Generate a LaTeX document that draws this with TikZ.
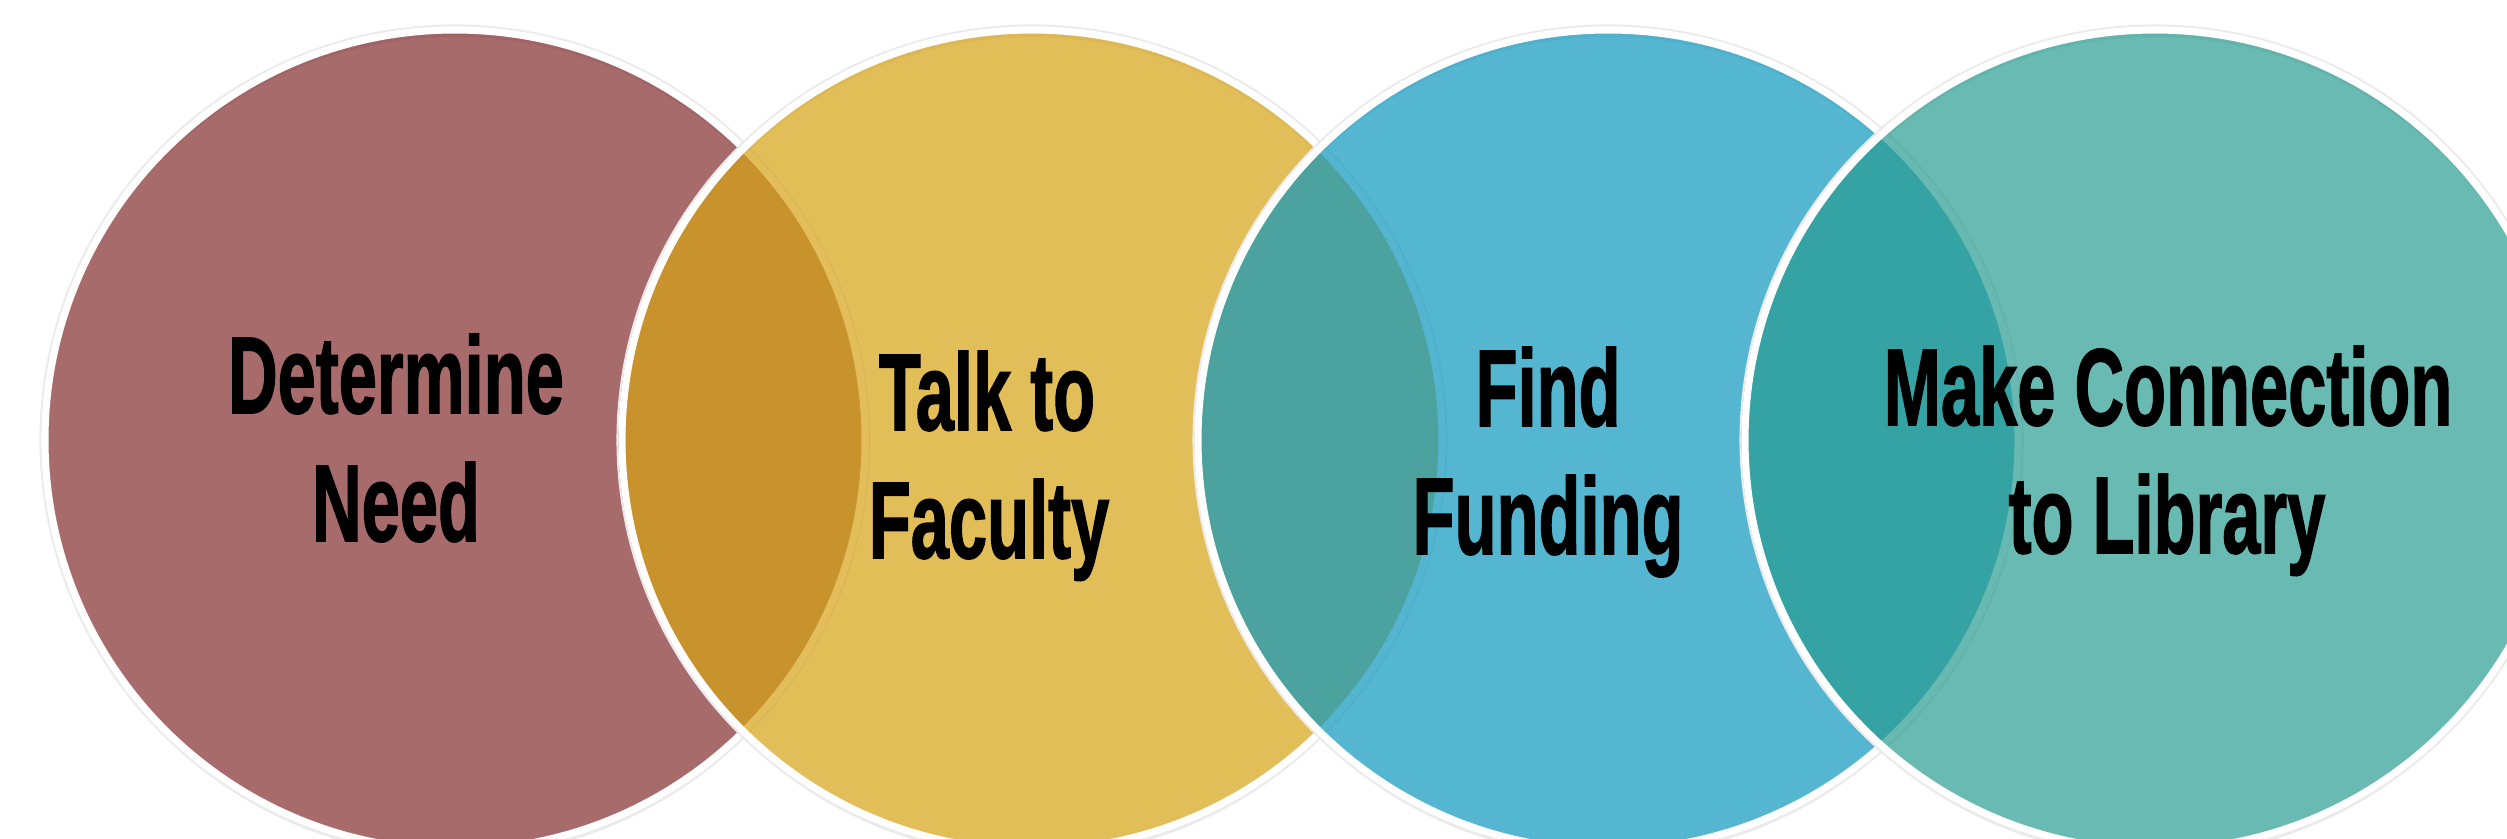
\documentclass[tikz,border=0pt]{standalone}
\usepackage{fontspec}
\newfontfamily\dinfont[BoldFeatures={FakeBold=1.6}]{Liberation Sans}
\definecolor{cMaroon}{RGB}{131,44,44}
\definecolor{cYellow}{RGB}{214,162,19}
\definecolor{cBlue}{RGB}{12,151,189}
\definecolor{cTeal}{RGB}{40,156,145}
\newcommand{\vennDisk}[2]{%
  \fill[black, opacity=0.16, even odd rule] ([yshift=-0.03cm]#1) circle[radius=410] (#1) circle[radius=410];
  \fill[black, opacity=0.08, even odd rule] ([yshift=-0.07cm]#1) circle[radius=410] (#1) circle[radius=410];
  \draw[black!8, line width=0.6pt] (#1) circle[radius=414.5];
  \fill[vfill=#2] (#1) circle[radius=410];
  \draw[vring] (#1) circle[radius=410];
}
\newcommand{\cond}[1]{\scalebox{0.63}[1]{#1}}
\begin{document}
\begin{tikzpicture}[x=0.01cm,y=0.01cm,
  vfill/.style={fill=#1, fill opacity=0.7},
  vring/.style={draw=white, line width=2pt},
  vlabel/.style={font=\dinfont\bfseries\fontsize{31}{37}\selectfont, text=black, anchor=base, inner sep=0pt}]
\useasboundingbox (0,0) rectangle (2507,838);
\clip (0,0) rectangle (2507,838);
\coordinate (c1) at (455,398);
\coordinate (c2) at (1032,398);
\coordinate (c3) at (1608,398);
\coordinate (c4) at (2155,398);
\vennDisk{c1}{cMaroon}
\vennDisk{c2}{cYellow}
\vennDisk{c3}{cBlue}
\vennDisk{c4}{cTeal}
\node[vlabel] (t1a) at (396,425) {\cond{Determine}};
\node[vlabel] (t1b) at (396,297) {\cond{Need}};
\node[vlabel] (t2a) at (987,408) {\cond{Talk to}};
\node[vlabel] (t2b) at (989,280) {\cond{Faculty}};
\node[vlabel] (t3a) at (1548,412) {\cond{Find}};
\node[vlabel] (t3b) at (1548,284) {\cond{Funding}};
\node[vlabel] (t4a) at (2168,413) {\cond{Make Connection}};
\node[vlabel] (t4b) at (2167,285) {\cond{to Library}};
\end{tikzpicture}
\end{document}
